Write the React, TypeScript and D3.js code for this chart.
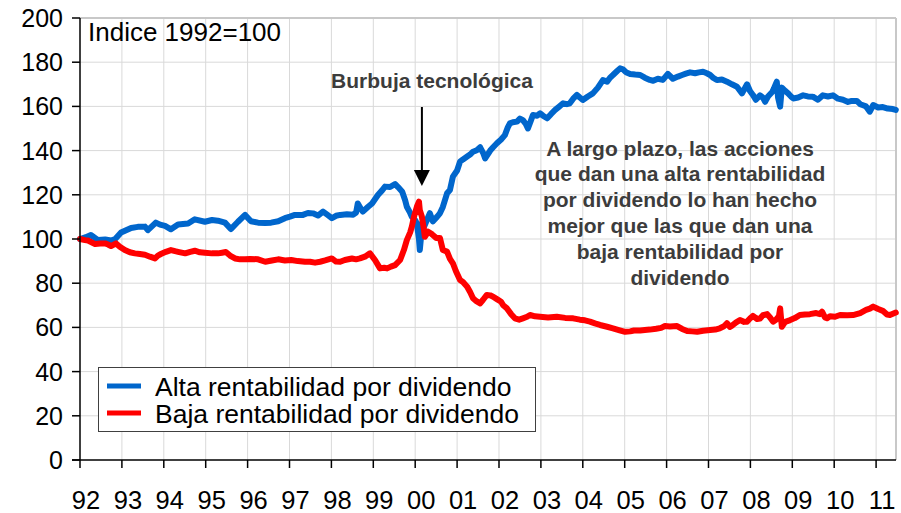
import React from "react";
import * as d3 from "d3";

// ---- Data ----
const yearTicks = [1992, 1993, 1994, 1995, 1996, 1997, 1998, 1999, 2000, 2001, 2002, 2003, 2004, 2005, 2006, 2007, 2008, 2009, 2010, 2011];
const yearLabels = ["92", "93", "94", "95", "96", "97", "98", "99", "00", "01", "02", "03", "04", "05", "06", "07", "08", "09", "10", "11"];
const valueTicks = [0, 20, 40, 60, 80, 100, 120, 140, 160, 180, 200];

const seriesNames = ["Alta rentabilidad por dividendo", "Baja rentabilidad por dividendo"];

const altaFecha = [
  1992.00, 1992.14, 1992.26, 1992.43, 1992.60, 1992.74, 1992.84, 1992.98, 1993.22, 1993.38,
  1993.55, 1993.62, 1993.81, 1993.91, 1994.03, 1994.17, 1994.34, 1994.58, 1994.74, 1994.98,
  1995.15, 1995.29, 1995.46, 1995.60, 1995.77, 1995.94, 1996.08, 1996.25, 1996.42, 1996.56,
  1996.73, 1996.89, 1997.01, 1997.13, 1997.32, 1997.44, 1997.56, 1997.68, 1997.80, 1997.90,
  1998.01, 1998.11, 1998.21, 1998.37, 1998.52, 1998.59, 1998.63, 1998.71, 1998.75, 1998.87,
  1998.97, 1999.11, 1999.21, 1999.28, 1999.40, 1999.52, 1999.59, 1999.69, 1999.76, 1999.80,
  1999.88, 1999.92, 2000.00, 2000.04, 2000.09, 2000.11, 2000.14, 2000.16, 2000.21, 2000.28,
  2000.35, 2000.42, 2000.52, 2000.59, 2000.66, 2000.71, 2000.76, 2000.83, 2000.90, 2001.00,
  2001.07, 2001.14, 2001.24, 2001.31, 2001.38, 2001.47, 2001.55, 2001.62, 2001.67, 2001.74,
  2001.79, 2001.86, 2001.95, 2002.05, 2002.14, 2002.21, 2002.26, 2002.33, 2002.43, 2002.50,
  2002.57, 2002.64, 2002.69, 2002.76, 2002.81, 2002.91, 2002.98, 2003.05, 2003.15, 2003.24,
  2003.34, 2003.43, 2003.53, 2003.62, 2003.69, 2003.77, 2003.86, 2003.93, 2004.00, 2004.12,
  2004.24, 2004.36, 2004.48, 2004.58, 2004.65, 2004.72, 2004.82, 2004.89, 2004.96, 2005.03,
  2005.13, 2005.25, 2005.37, 2005.48, 2005.60, 2005.68, 2005.79, 2005.91, 2006.03, 2006.15,
  2006.27, 2006.37, 2006.46, 2006.56, 2006.68, 2006.77, 2006.87, 2006.96, 2007.04, 2007.11,
  2007.20, 2007.32, 2007.44, 2007.56, 2007.68, 2007.80, 2007.92, 2007.99, 2008.06, 2008.13,
  2008.23, 2008.30, 2008.35, 2008.42, 2008.52, 2008.56, 2008.63, 2008.66, 2008.71, 2008.75,
  2008.83, 2008.90, 2008.97, 2009.02, 2009.14, 2009.26, 2009.37, 2009.49, 2009.61, 2009.73,
  2009.85, 2009.97, 2010.09, 2010.21, 2010.33, 2010.42, 2010.54, 2010.62, 2010.69, 2010.76,
  2010.85, 2010.93, 2011.05, 2011.16, 2011.28, 2011.40, 2011.47,
];
const altaValor = [
  100, 100.8, 101.8, 99.5, 99.8, 99.3, 100, 102.9, 105, 105.5,
  105.6, 104, 107.4, 106.5, 105.9, 104.4, 106.6, 107, 108.9, 107.8,
  108.6, 108.3, 107.4, 104.5, 107.8, 110.9, 108, 107.4, 107.2, 107.4,
  108, 109.4, 110.1, 110.9, 110.9, 111.8, 111.6, 110.6, 112.4, 111,
  109.4, 110.5, 110.9, 111.2, 111, 112, 116.1, 113.5, 112.4, 114.5,
  116.1, 119.9, 122, 123.7, 123.5, 124.9, 123.5, 121.4, 117.5, 114.6,
  111.8, 110.1, 108.5, 107, 100, 95, 101, 107, 105.5, 108.6,
  111.7, 108, 110, 111.6, 114.5, 117.6, 120.7, 122.2, 128.2, 131,
  135, 136, 137.3, 138.2, 139.5, 140.2, 141.5, 139, 136.5, 138.5,
  140, 141.5, 143.3, 145, 147, 150.5, 152.3, 152.8, 153.1, 154.5,
  153.8, 152, 150, 153.5, 156.1, 155.8, 156.9, 155.8, 154.6, 156.5,
  158.4, 159.8, 161.4, 161, 161.4, 163.5, 165.2, 164, 162.9, 164.5,
  165.9, 168.5, 171.9, 171.2, 173, 174.2, 176, 177.2, 176.8, 175.5,
  174.7, 174.4, 174.2, 173, 172, 171.6, 172.5, 172, 174.7, 172.5,
  173.5, 174.2, 174.8, 175.4, 175, 175.4, 175.7, 175, 174.2, 173,
  171.9, 172.2, 171.2, 170, 168.9, 165.9, 170, 167, 165.2, 163,
  165, 164, 162.1, 164.5, 166.5, 168, 171.2, 164, 159.9, 168.5,
  167, 165.9, 164.5, 163.6, 164, 165, 164.5, 164.4, 163, 165,
  164.5, 165, 163.5, 163, 162, 162.5, 162.5, 161, 160.5, 160,
  157.6, 160.6, 159.5, 159.7, 159, 158.8, 158.4,
];

const bajaFecha = [
  1992.00, 1992.12, 1992.19, 1992.36, 1992.48, 1992.60, 1992.67, 1992.74, 1992.86, 1992.95,
  1993.07, 1993.19, 1993.31, 1993.43, 1993.55, 1993.67, 1993.79, 1993.86, 1993.93, 1994.05,
  1994.17, 1994.27, 1994.34, 1994.51, 1994.63, 1994.74, 1994.86, 1994.98, 1995.15, 1995.29,
  1995.39, 1995.48, 1995.58, 1995.70, 1995.82, 1995.94, 1996.06, 1996.25, 1996.42, 1996.58,
  1996.73, 1996.89, 1997.04, 1997.20, 1997.37, 1997.49, 1997.61, 1997.73, 1997.85, 1998.01,
  1998.11, 1998.21, 1998.32, 1998.49, 1998.59, 1998.68, 1998.80, 1998.92, 1999.04, 1999.16,
  1999.26, 1999.33, 1999.42, 1999.52, 1999.64, 1999.73, 1999.80, 1999.88, 1999.92, 1999.97,
  2000.04, 2000.09, 2000.11, 2000.16, 2000.21, 2000.23, 2000.31, 2000.38, 2000.42, 2000.50,
  2000.59, 2000.66, 2000.76, 2000.83, 2000.90, 2000.97, 2001.07, 2001.14, 2001.24, 2001.31,
  2001.38, 2001.45, 2001.55, 2001.62, 2001.71, 2001.79, 2001.86, 2001.95, 2002.05, 2002.10,
  2002.19, 2002.29, 2002.38, 2002.48, 2002.57, 2002.67, 2002.74, 2002.86, 2002.98, 2003.17,
  2003.38, 2003.58, 2003.77, 2003.93, 2004.05, 2004.17, 2004.29, 2004.41, 2004.58, 2004.72,
  2004.86, 2005.01, 2005.13, 2005.22, 2005.37, 2005.48, 2005.60, 2005.75, 2005.87, 2005.96,
  2006.08, 2006.25, 2006.37, 2006.49, 2006.61, 2006.73, 2006.87, 2007.04, 2007.16, 2007.27,
  2007.37, 2007.44, 2007.51, 2007.56, 2007.66, 2007.75, 2007.85, 2007.92, 2007.99, 2008.06,
  2008.16, 2008.23, 2008.30, 2008.40, 2008.47, 2008.54, 2008.61, 2008.68, 2008.71, 2008.75,
  2008.83, 2008.95, 2009.06, 2009.18, 2009.30, 2009.42, 2009.57, 2009.66, 2009.71, 2009.78,
  2009.83, 2009.90, 2010.02, 2010.14, 2010.31, 2010.45, 2010.62, 2010.76, 2010.85, 2010.93,
  2011.05, 2011.16, 2011.26, 2011.33, 2011.47,
];
const bajaValor = [
  100, 99.5, 99.3, 97.7, 98, 98, 97.5, 96.8, 98, 96.5,
  95, 94, 93.5, 93.2, 92.9, 92, 91.2, 92.5, 93.2, 94.2,
  95, 94.5, 94.2, 93.5, 94.2, 94.7, 94, 93.8, 93.5, 93.5,
  93.8, 94.1, 92.5, 91.2, 90.8, 90.8, 91, 90.8, 89.7, 90.3,
  90.8, 90.3, 90.5, 90, 89.7, 89.7, 89.3, 89.7, 90.3, 91.2,
  89.8, 89.7, 90.5, 91.2, 90.8, 91.2, 92, 93.5, 90.5, 86.7,
  87, 86.7, 87.5, 88.2, 90.5, 95, 99.5, 103, 105.6, 110,
  114.6, 116.9, 113, 110.1, 104, 101, 103.3, 102.5, 101.8, 100.5,
  100.5, 95, 94.3, 91, 89, 85.5, 81.4, 80.5, 78.4, 76,
  73.2, 72, 70.9, 72.5, 74.7, 74.5, 73.9, 72.8, 71.6, 70,
  68.6, 66, 64.1, 63.5, 64.1, 64.8, 65.6, 65, 64.8, 64.5,
  64.8, 64.3, 64.1, 63.5, 63.2, 62.6, 61.8, 61.1, 60.3, 59.6,
  58.8, 58, 58.2, 58.6, 58.6, 58.8, 59, 59.4, 59.8, 60.6,
  60.4, 60.6, 59.3, 58.4, 58.2, 58, 58.5, 58.8, 59, 59.6,
  60.5, 61.9, 60.2, 60.8, 62.3, 63.3, 62.5, 62.6, 64, 65.2,
  63.8, 64, 65.5, 66, 64.5, 62.6, 63.5, 65, 68.6, 60.3,
  62.5, 63.3, 64.2, 65.6, 65.8, 66, 66.5, 66, 67.1, 64.5,
  64.1, 65, 64.8, 65.6, 65.5, 65.6, 66.5, 67.9, 68.5, 69.4,
  68.3, 67.5, 65.8, 65.6, 66.7,
];

const bubbleLabel = "Burbuja tecnológica";
const bubbleYear = 2000.16;
const noteLines = [
  "A largo plazo, las acciones",
  "que dan una alta rentabilidad",
  "por dividendo lo han hecho",
  "mejor que las que dan una",
  "baja rentabilidad por",
  "dividendo",
];
const unitLabel = "Indice 1992=100";

const colors = ["#0066CC", "#FF0000"];
const FONT = "'Liberation Sans', Arial, Helvetica, sans-serif";

export default function App() {
  const left = 80, right = 896, top = 18, bottom = 460;
  const x = d3.scaleLinear().domain([1992, 2011.475]).range([left, right]);
  const y = d3.scaleLinear().domain([0, 200]).range([bottom, top]);
  const line = d3
    .line<[number, number]>()
    .x((d) => x(d[0]))
    .y((d) => y(d[1]));

  const alta: [number, number][] = altaFecha.map((t, i) => [t, altaValor[i]]);
  const baja: [number, number][] = bajaFecha.map((t, i) => [t, bajaValor[i]]);
  const series = [alta, baja];

  const ax = x(bubbleYear);

  return (
    <svg
      width={901}
      height={513}
      style={{ position: "absolute", left: 0, top: 0, background: "#fff" }}
      fontFamily={FONT}
    >
      <rect x={0} y={0} width={901} height={513} fill="#fff" />
      {/* grid */}
      {valueTicks.filter((v) => v > 0).map((v) => (
        <line key={"h" + v} x1={left} x2={right} y1={y(v)} y2={y(v)} stroke="#d9d9d9" strokeWidth={1} />
      ))}
      {yearTicks.filter((t) => t > 1992).map((t) => (
        <line key={"v" + t} x1={x(t)} x2={x(t)} y1={top} y2={bottom} stroke="#d9d9d9" strokeWidth={1} />
      ))}
      {/* frame top/right */}
      <line x1={left} x2={right} y1={top} y2={top} stroke="#c8c8c8" strokeWidth={2} />
      <line x1={right} x2={right} y1={top} y2={bottom} stroke="#c8c8c8" strokeWidth={2} />

      {/* series */}
      {series.map((s, i) => (
        <path
          key={i}
          d={line(s) || ""}
          fill="none"
          stroke={colors[i]}
          strokeWidth={6}
          strokeLinejoin="round"
          strokeLinecap="round"
        />
      ))}

      {/* axes */}
      <line x1={left} x2={left} y1={top} y2={bottom} stroke="#000" strokeWidth={1.5} />
      <line x1={left - 8} x2={right} y1={bottom} y2={bottom} stroke="#000" strokeWidth={1.5} />
      {valueTicks.map((v) => (
        <g key={"yt" + v}>
          <line x1={left - 8} x2={left} y1={y(v)} y2={y(v)} stroke="#000" strokeWidth={1.5} />
          <text x={63} y={y(v)} dy="0.36em" textAnchor="end" fontSize={25} fill="#000">
            {v}
          </text>
        </g>
      ))}
      {yearTicks.map((t, i) => (
        <g key={"xt" + t}>
          <line x1={x(t)} x2={x(t)} y1={bottom} y2={bottom + 8} stroke="#000" strokeWidth={1.5} />
          <text x={x(t) + 6} y={509} textAnchor="middle" fontSize={25.5} fill="#000">
            {yearLabels[i]}
          </text>
        </g>
      ))}

      {/* unit label */}
      <text x={88} y={41} fontSize={26} fill="#000">
        {unitLabel}
      </text>

      {/* bubble annotation */}
      <text x={432} y={87.5} textAnchor="middle" fontSize={21} fontWeight="bold" fill="#3c3c3c">
        {bubbleLabel}
      </text>
      <line x1={ax} x2={ax} y1={107} y2={172} stroke="#000" strokeWidth={2} />
      <path d={`M${ax - 8},170 L${ax + 8},170 L${ax},186 Z`} fill="#000" />

      {/* note */}
      {noteLines.map((s, i) => (
        <text key={i} x={680} y={155.5 + i * 25.8} textAnchor="middle" fontSize={21} fontWeight="bold" fill="#3c3c3c">
          {s}
        </text>
      ))}

      {/* legend */}
      <rect x={98.5} y={367.5} width={437} height={64} fill="#fff" stroke="#404040" strokeWidth={1} />
      {seriesNames.map((n, i) => (
        <g key={n}>
          <line x1={107} x2={141} y1={386 + i * 27} y2={386 + i * 27} stroke={colors[i]} strokeWidth={5} />
          <text x={155} y={386 + i * 27} dy="0.36em" fontSize={26.5} fill="#000">
            {n}
          </text>
        </g>
      ))}
    </svg>
  );
}
